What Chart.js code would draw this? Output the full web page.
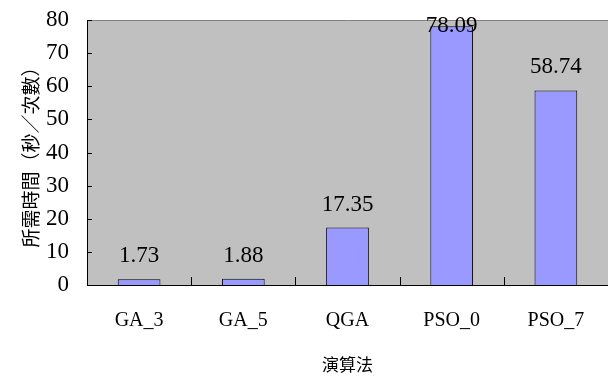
<!DOCTYPE html>
<html>
<head>
<meta charset="utf-8">
<script src="https://cdn.jsdelivr.net/npm/chart.js@4"></script>
<style>
html,body{margin:0;padding:0;background:#fff;}
#wrap{width:608px;height:387px;}
</style>
</head>
<body>
<div id="wrap"><canvas id="c" width="608" height="387"></canvas></div>
<script>
const categories = ['GA_3', 'GA_5', 'QGA', 'PSO_0', 'PSO_7'];
const timeValues = [1.73, 1.88, 17.35, 78.09, 58.74];
const yTicks = [0, 10, 20, 30, 40, 50, 60, 70, 80];
const xTitle = '演算法';
const yTitle = '所需時間（秒／次數）';

const numFont = 'Liberation Serif';
const cjkFont = 'Noto Sans CJK TC';

const plotBg = {
  id: 'plotBg',
  beforeDraw(chart) {
    const {ctx, chartArea: a} = chart;
    ctx.save();
    ctx.fillStyle = '#C0C0C0';
    ctx.fillRect(a.left, a.top, a.right - a.left, a.bottom - a.top);
    ctx.strokeStyle = '#808080';
    ctx.lineWidth = 1;
    ctx.beginPath();
    ctx.moveTo(a.left, a.top + 0.5);
    ctx.lineTo(a.right, a.top + 0.5);
    ctx.stroke();
    ctx.restore();
  },
  afterDatasetsDraw(chart) {
    const {ctx, chartArea: a} = chart;
    const xs = chart.scales.x, ys = chart.scales.y;
    ctx.save();
    ctx.strokeStyle = '#000';
    ctx.lineWidth = 1;
    ctx.beginPath();
    yTicks.forEach(v => {
      const y = Math.round(ys.getPixelForValue(v)) + 0.5;
      ctx.moveTo(a.left, y);
      ctx.lineTo(a.left + 5, y);
    });
    const half = (xs.getPixelForValue(1) - xs.getPixelForValue(0)) / 2;
    for (let i = 0; i <= categories.length; i++) {
      const x = Math.round(xs.getPixelForValue(i) - half) + 0.5;
      ctx.moveTo(x, a.bottom);
      ctx.lineTo(x, a.bottom - 8);
    }
    ctx.stroke();
    // data labels
    ctx.fillStyle = '#000';
    ctx.font = '23px "' + numFont + '"';
    ctx.textAlign = 'center';
    ctx.textBaseline = 'alphabetic';
    const meta = chart.getDatasetMeta(0);
    meta.data.forEach((bar, i) => {
      const y = Math.max(bar.y - 17, a.top + 12);
      ctx.fillText(timeValues[i].toFixed(2), bar.x, y);
    });
    ctx.restore();
  }
};

new Chart(document.getElementById('c'), {
  type: 'bar',
  data: {
    labels: categories,
    datasets: [{
      data: timeValues,
      backgroundColor: '#9999FF',
      borderColor: '#000000',
      borderWidth: 1,
      barPercentage: 0.41,
      categoryPercentage: 1
    }]
  },
  options: {
    responsive: false,
    animation: false,
    layout: {padding: {top: 20, right: -3, bottom: 0, left: 0}},
    plugins: {legend: {display: false}, tooltip: {enabled: false}},
    scales: {
      x: {
        grid: {display: false, drawTicks: false},
        border: {display: true, color: '#000', width: 1},
        ticks: {color: '#000', font: {family: numFont, size: 20}, padding: 24},
        title: {display: true, text: xTitle, color: '#000', font: {family: cjkFont, size: 17}, padding: {top: 0, bottom: 12}},
        afterFit(s) { s.height = 102; s.paddingLeft = 0; s.paddingRight = 0; }
      },
      y: {
        min: 0, max: 80,
        grid: {display: false, drawTicks: false},
        border: {display: true, color: '#000', width: 1},
        ticks: {
          stepSize: 10, color: '#000',
          font: {family: numFont, size: 23}, padding: 18
        },
        afterBuildTicks(s) { s.ticks = yTicks.map(v => ({value: v})); },
        title: {display: true, text: yTitle, color: '#000', font: {family: cjkFont, size: 19}, padding: {top: 19, bottom: 0}},
        afterFit(s) { s.width = 87; s.paddingTop = 0; s.paddingBottom = 0; }
      }
    }
  },
  plugins: [plotBg]
});
</script>
</body>
</html>
